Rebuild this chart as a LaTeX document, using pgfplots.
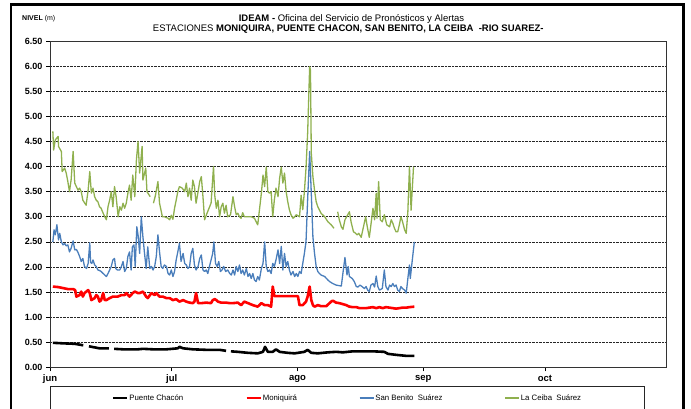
\documentclass[border=0pt]{standalone}
\usepackage{pgfplots}
\pgfplotsset{compat=1.18}
\usepackage{fontspec}
\setmainfont{Liberation Sans}

\definecolor{pchacon}{HTML}{000000}
\definecolor{moniq}{HTML}{FF0000}
\definecolor{sbenito}{HTML}{4A7EBB}
\definecolor{lceiba}{HTML}{8FB04E}

\begin{document}
\begin{tikzpicture}
% chart area frame (runs past the lower edge of the page)
\draw[line width=2.4pt] (-39pt,362.7pt) rectangle (633.5pt,-70pt);

\begin{axis}[
    at={(0pt,0pt)}, anchor=south west,
    scale only axis,
    width=616.7pt, height=326.4pt,
    xmin=0, xmax=152,
    ymin=0, ymax=6.5,
    xtick={0,30,61,92,122},
    xticklabels={jun,jul,ago,sep,oct},
    ytick={0,0.5,1,1.5,2,2.5,3,3.5,4,4.5,5,5.5,6,6.5},
    ymajorgrids,
    grid style={densely dotted, black!85, line width=0.6pt},
    axis line style={black!80, line width=0.7pt},
    tick align=outside,
    major tick length=4pt,
    tick style={black, line width=0.6pt},
    xtick pos=bottom, ytick pos=left,
    /pgf/number format/assume math mode=true,
    yticklabel style={/pgf/number format/.cd, fixed, fixed zerofill, precision=2, /tikz/.cd,
        font=\bfseries\fontsize{9}{10}\selectfont},
    xticklabel style={font=\bfseries\fontsize{9.5}{10}\selectfont},
    unbounded coords=jump,
    line join=round,
    legend columns=4,
    legend style={at={(0.4816,-0.0937)}, anchor=center, draw=none, fill=none,
        font=\fontsize{7.8}{9}\selectfont,
        /tikz/every even column/.append style={column sep=61pt},
        nodes={inner sep=1pt}},
    legend image code/.code={\draw[#1] (0pt,0pt) -- (14pt,0pt);},
]

% --- Puente Chacon ---
\addplot[pchacon, line width=2.6pt] coordinates {
(0.7,0.49) (3.0,0.48) (6.1,0.47) (8.2,0.44) (8.8,nan) (9.6,0.42) (12.2,0.38) (14.5,0.38)
(15.0,nan) (15.8,0.37) (18.0,0.36) (21.7,0.36) (22.9,0.37) (25.4,0.36) (28.7,0.36)
(31.5,0.38) (31.9,0.41) (32.8,0.38) (35.2,0.36) (38.5,0.35) (41.8,0.35) (43.4,0.33)
(44.0,nan) (44.6,0.32) (46.3,0.31) (48.8,0.29) (51.2,0.28) (52.5,0.31) (53.0,0.41)
(53.7,0.31) (54.9,0.31) (55.7,0.36) (56.6,0.31) (58.6,0.29) (60.3,0.28) (62.7,0.31)
(63.5,0.35) (64.4,0.29) (66.0,0.28) (68.5,0.30) (70.5,0.31) (72.2,0.30) (74.6,0.32)
(77.1,0.32) (79.6,0.32) (82.4,0.31) (83.3,0.27) (85.3,0.25) (87.8,0.23) (89.8,0.23)
};
\addlegendentry{Puente Chacón}

% --- Moniquira ---
\addplot[moniq, line width=2.6pt] coordinates {
(0.7,1.61) (2.0,1.60) (3.2,1.58) (4.4,1.56) (5.7,1.56) (6.2,1.54) (6.5,1.41)
(7.3,1.44) (7.7,1.51) (8.1,1.41) (8.5,1.48) (9.4,1.54) (9.8,1.48) (10.2,1.34) (11.0,1.38)
(11.4,1.44) (11.8,1.41) (12.2,1.31) (12.6,1.34) (13.1,1.48) (13.5,1.34) (13.9,1.34)
(14.7,1.38) (15.5,1.41) (16.7,1.41) (17.6,1.44) (18.4,1.44) (18.8,1.48) (19.6,1.41)
(20.4,1.48) (20.9,1.51) (21.7,1.48) (22.1,1.48) (22.9,1.51) (23.7,1.41) (24.1,1.38)
(25.0,1.48) (25.8,1.44) (26.2,1.48) (27.0,1.41) (27.8,1.41) (28.7,1.38) (29.5,1.38)
(30.3,1.34) (31.1,1.36) (31.9,1.31) (32.8,1.34) (33.6,1.31) (34.4,1.29) (35.2,1.28)
(35.6,1.31) (36.0,1.48) (36.5,1.28) (37.3,1.28) (38.5,1.29) (39.7,1.28) (40.1,1.34)
(40.6,1.36) (41.0,1.34) (41.4,1.31) (42.2,1.29) (43.4,1.29) (44.3,1.28) (45.1,1.28)
(46.3,1.29) (47.1,1.24) (47.9,1.31) (48.8,1.28) (50.0,1.24) (51.2,1.21) (52.1,1.28)
(52.9,1.24) (53.7,1.24) (54.5,1.21) (54.9,1.61) (55.3,1.42) (56.2,1.42) (57.0,1.42)
(58.6,1.42) (60.3,1.42) (61.1,1.42) (61.5,1.24) (62.3,1.24) (63.1,1.31) (63.5,1.41)
(64.0,1.61) (64.4,1.34) (64.8,1.24) (65.2,1.21) (66.0,1.24) (66.8,1.22) (67.7,1.22)
(68.1,1.22) (68.9,1.28) (69.3,1.31) (69.7,1.33) (70.5,1.29) (71.3,1.28) (72.2,1.26)
(73.0,1.24) (73.8,1.21) (74.6,1.20) (75.5,1.20) (76.3,1.18) (77.1,1.18) (77.9,1.18)
(78.7,1.19) (79.6,1.20) (80.4,1.18) (81.2,1.20) (82.0,1.18) (82.8,1.20) (83.7,1.19)
(84.5,1.18) (85.3,1.17) (86.1,1.18) (86.9,1.19) (87.8,1.19) (88.6,1.20) (89.8,1.21)
};
\addlegendentry{Moniquirá}

% --- San Benito Suarez ---
\addplot[sbenito, line width=1.3pt] coordinates {
(0.7,2.50) (1.0,2.74) (1.3,2.64) (1.7,2.84) (2.1,2.54) (2.4,2.67) (2.8,2.50) (3.2,2.44)
(3.6,2.47) (4.0,2.42) (4.4,2.44) (4.8,2.30) (5.2,2.37) (5.7,2.52) (6.1,2.34) (6.5,2.35)
(6.9,2.29) (7.3,2.21) (7.7,2.11) (8.1,2.17) (8.5,2.01) (9.0,1.97) (9.4,2.07) (9.8,2.48)
(10.0,2.09) (10.3,2.07) (10.6,2.14) (11.0,2.04) (11.4,2.01) (11.8,1.94) (12.2,1.93)
(12.6,1.91) (13.1,1.87) (13.5,1.84) (13.9,1.81) (14.3,1.87) (14.7,1.94) (15.1,2.01)
(15.5,2.14) (15.9,2.17) (16.2,1.97) (16.6,1.94) (17.2,1.94) (17.6,2.01) (18.0,2.11)
(18.4,1.91) (18.8,1.97) (19.2,2.21) (19.6,2.30) (20.0,1.94) (20.3,2.40) (20.7,2.44)
(21.0,2.01) (21.4,2.80) (21.7,2.64) (22.1,2.27) (22.5,3.00) (22.9,2.60) (23.3,2.27)
(23.7,1.97) (24.1,2.40) (24.6,1.97) (25.0,2.01) (25.4,1.94) (25.8,2.01) (26.2,2.21)
(26.6,2.64) (27.0,2.30) (27.4,2.01) (27.8,1.97) (28.2,2.04) (28.7,2.01) (29.1,1.87)
(29.5,1.84) (29.9,1.94) (30.3,1.81) (30.7,1.91) (31.1,2.14) (31.5,2.30) (31.9,2.47)
(32.3,2.11) (32.8,2.27) (33.2,2.07) (33.6,2.04) (34.0,1.97) (34.4,2.01) (34.8,2.27)
(35.2,2.37) (35.6,2.04) (36.0,1.94) (36.5,2.01) (36.9,2.17) (37.3,2.24) (37.7,1.94)
(38.1,1.91) (38.5,1.94) (38.9,1.87) (39.3,2.01) (39.7,2.14) (40.1,2.27) (40.4,2.50)
(40.8,2.07) (41.2,2.01) (41.6,2.11) (42.0,1.91) (42.4,1.94) (42.8,2.01) (43.3,1.91)
(43.8,1.94) (44.3,1.87) (44.7,1.84) (45.1,1.94) (45.5,1.84) (45.9,2.01) (46.3,1.91)
(46.7,2.04) (47.1,1.87) (47.5,1.94) (47.9,1.84) (48.4,1.97) (48.8,1.81) (49.2,1.87)
(49.6,1.77) (50.0,1.87) (50.4,1.74) (50.8,1.71) (51.2,1.81) (51.6,1.74) (52.1,1.97)
(52.5,2.07) (52.9,2.50) (53.3,2.01) (53.7,1.91) (54.1,1.94) (54.5,1.87) (54.9,2.07)
(55.3,2.01) (55.7,2.14) (56.2,2.34) (56.6,2.07) (57.0,2.41) (57.4,1.94) (57.8,2.27)
(58.2,2.01) (58.6,2.11) (59.0,1.94) (59.4,1.84) (59.9,1.91) (60.3,1.81) (60.7,1.87)
(61.1,1.81) (61.5,1.91) (61.9,1.87) (62.3,2.07) (62.7,2.27) (63.1,2.50) (63.5,3.34)
(64.0,4.30) (64.4,3.47) (64.8,2.60) (65.2,2.27) (65.6,2.01) (66.0,1.91) (66.4,1.87)
(66.8,1.84) (67.7,1.81) (68.5,1.74) (68.9,1.71) (69.7,1.67) (70.5,1.64) (71.8,1.62)
(72.3,1.94) (72.7,2.19) (73.2,1.84) (73.5,2.01) (73.8,1.81) (74.5,1.77) (75.0,1.71)
(75.5,1.61) (75.9,1.60) (76.4,1.64) (76.9,1.61) (77.5,1.57) (77.9,1.61) (78.3,1.54)
(78.7,1.51) (79.1,1.64) (79.6,1.67) (80.0,1.60) (80.4,1.82) (80.8,1.61) (81.2,1.54)
(81.9,1.57) (82.4,1.94) (82.8,1.61) (83.3,1.54) (83.7,1.64) (84.1,1.61) (84.5,1.67)
(84.9,1.61) (85.3,1.64) (85.7,1.54) (86.1,1.51) (86.5,1.61) (86.9,1.57) (87.4,1.54)
(87.8,1.48) (88.2,1.77) (88.6,2.04) (88.8,1.77) (89.2,2.07) (89.8,2.50)
};
\addlegendentry{San Benito\ \ Suárez}

% --- La Ceiba Suarez ---
\addplot[lceiba, line width=1.3pt] coordinates {
(0.7,4.70) (0.9,4.33) (1.3,4.53) (2.0,4.60) (2.1,4.40) (2.8,4.30) (3.0,3.90) (3.6,3.97)
(4.0,3.87) (4.4,3.70) (4.8,3.50) (5.2,3.73) (5.7,4.30) (6.1,3.67) (6.5,3.60) (6.9,3.53)
(7.3,3.57) (7.7,3.50) (8.1,3.33) (8.9,3.23) (9.4,3.53) (9.8,3.90) (10.2,3.47) (10.6,3.57)
(11.0,3.40) (11.4,3.33) (11.8,3.30) (12.2,3.20) (12.6,3.17) (13.1,3.07) (13.5,3.00)
(13.9,2.94) (14.3,3.20) (14.7,3.33) (15.1,3.50) (15.5,3.20) (15.9,3.60) (16.3,3.40)
(16.8,3.00) (17.2,3.20) (17.6,3.13) (18.0,3.27) (18.4,3.17) (18.8,3.27) (19.2,3.47)
(19.6,3.63) (20.0,3.33) (20.4,3.83) (20.9,3.40) (21.3,4.13) (21.7,4.50) (22.1,3.87)
(22.7,4.40) (22.9,3.73) (23.6,3.97) (23.9,3.50) (24.7,3.40) (25.1,nan) (25.5,3.27)
(26.0,3.43) (26.6,3.70) (27.0,3.27) (27.7,3.00) (28.2,3.00) (29.1,2.97) (29.5,2.94)
(29.9,3.03) (30.3,2.95) (30.7,3.17) (31.1,3.33) (31.5,3.50) (31.9,3.60) (32.6,3.57)
(33.2,3.50) (33.6,3.67) (34.0,3.40) (34.4,3.57) (34.8,3.33) (35.2,3.73) (35.6,3.60)
(36.0,3.27) (36.5,3.50) (36.9,3.70) (37.3,3.80) (37.7,3.40) (38.1,2.94) (38.7,3.07)
(39.2,3.17) (39.7,3.27) (40.3,4.00) (40.6,3.43) (41.0,3.17) (41.4,3.33) (41.8,3.00)
(42.2,3.20) (42.6,3.27) (43.0,3.07) (43.4,3.23) (43.8,3.00) (44.5,3.04) (45.1,3.40)
(45.5,3.20) (45.9,3.04) (46.3,3.07) (46.7,3.00) (47.1,2.97) (47.5,3.08) (47.9,3.00)
(48.8,3.00) (49.6,3.00) (50.4,2.97) (51.2,2.84) (52.1,3.47) (52.5,3.83) (52.9,3.60)
(53.3,3.99) (53.7,3.50) (54.1,3.47) (54.5,3.50) (54.9,3.00) (55.3,3.34) (55.7,3.57)
(56.2,3.40) (56.6,3.77) (57.0,3.99) (57.4,3.67) (57.8,3.87) (58.2,3.50) (58.6,3.30)
(59.0,3.14) (59.4,3.04) (59.9,2.97) (60.3,3.00) (60.7,3.04) (61.5,3.00) (61.9,3.43)
(62.3,3.14) (62.7,3.50) (63.1,3.97) (63.5,4.66) (64.0,5.99) (64.2,5.92) (64.4,4.27)
(64.8,3.80) (65.2,3.53) (65.6,3.30) (66.0,3.20) (66.8,3.07) (67.7,3.00) (68.5,2.90)
(69.3,2.84) (70.0,2.77) (70.4,nan) (70.9,3.10) (71.3,2.94) (71.8,2.80) (72.2,2.75)
(72.7,2.94) (73.8,3.10) (74.2,2.90) (74.8,2.70) (75.2,2.68) (75.7,2.64) (76.1,2.67)
(76.7,2.59) (77.1,2.74) (77.8,3.00) (78.2,2.80) (78.7,2.59) (79.1,2.84) (79.6,3.17)
(80.0,2.94) (80.4,3.47) (80.6,2.97) (81.0,3.70) (81.4,2.94) (81.9,2.90) (82.4,3.04)
(83.0,2.84) (83.7,2.80) (84.1,2.94) (84.5,2.87) (84.9,2.77) (85.3,2.70) (85.7,2.70)
(86.1,2.84) (86.5,3.00) (86.9,2.90) (87.4,2.74) (87.8,2.67) (88.2,3.10) (88.6,4.00)
(89.0,3.13) (89.6,4.00)
};
\addlegendentry{La Ceiba\ \ Suárez}

\end{axis}

% titles
\node[anchor=base, inner sep=0pt, font=\fontsize{9.5}{11}\selectfont] at (301.5pt,345.9pt)
    {\textbf{IDEAM -} Oficina del Servicio de Pronósticos y Alertas};
\node[anchor=base, inner sep=0pt, font=\fontsize{9.5}{11}\selectfont] at (298.3pt,335.7pt)
    {ESTACIONES \textbf{MONIQUIRA, PUENTE CHACON, SAN BENITO, LA CEIBA\ \ -RIO SUAREZ-}};
\node[anchor=base west, inner sep=0pt, font=\fontsize{7}{8}\selectfont] at (-28pt,346.4pt)
    {\textbf{NIVEL} (m)};

% legend frame
\draw[black!85, line width=0.6pt] (0.7pt,-19.3pt) rectangle (594pt,-70pt);

\pgfresetboundingbox
\useasboundingbox (-50pt,-40.6pt) rectangle (641pt,367.4pt);
\end{tikzpicture}
\end{document}
